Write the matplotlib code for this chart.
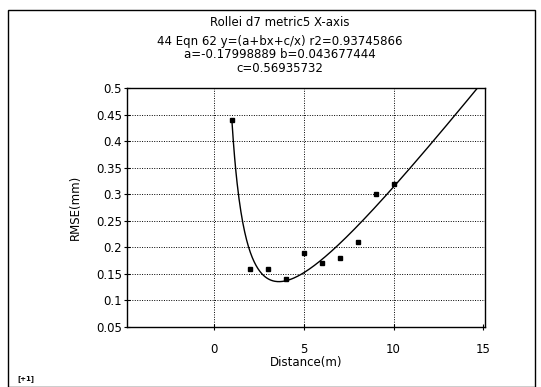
import numpy as np
import matplotlib
matplotlib.use("Agg")
import matplotlib.pyplot as plt
from matplotlib.patches import Rectangle

# Data
dist = [1, 2, 3, 4, 5, 6, 7, 8, 9, 10]
rmse = [0.44, 0.16, 0.16, 0.14, 0.19, 0.17, 0.18, 0.21, 0.30, 0.32]
a, b, c = -0.17998889, 0.043677444, 0.56935732
xticks = [0, 5, 10, 15]
yticks = [0.05, 0.1, 0.15, 0.2, 0.25, 0.3, 0.35, 0.4, 0.45, 0.5]
ytick_labels = ["0.05", "0.1", "0.15", "0.2", "0.25", "0.3", "0.35", "0.4", "0.45", "0.5"]

fig = plt.figure(figsize=(5.41, 3.87), dpi=100)
fig.patch.set_facecolor("white")

# outer frame
fig.patches.append(Rectangle((8/541, 0.0), (535-8)/541, 1 - 10/387 - 0.0,
                             transform=fig.transFigure, fill=False,
                             edgecolor="black", linewidth=1.0))

ax = fig.add_axes([127/541, 1 - 327/387, (485-127)/541, (327-88)/387])

xf = np.linspace(1.0, 15, 400)
yf = a + b * xf + c / xf
mask = yf <= 0.5
ax.plot(xf[mask], yf[mask], color="black", linewidth=1.0)
ax.plot(dist, rmse, "s", color="black", markersize=3.5)

ax.set_xlim(-4.86, 15.1)
ax.set_ylim(0.05, 0.5)
ax.set_xticks(xticks)
ax.set_yticks(yticks)
ax.set_yticklabels(ytick_labels)
ax.tick_params(direction="inout", length=5, width=0.8, labelsize=8.5, pad=1)
ax.tick_params(axis="x", pad=9)

for gx in [0, 5, 10]:
    ax.axvline(gx, color="black", linestyle=(0, (1, 1.5)), linewidth=0.7, zorder=0)
for gy in yticks[1:-1]:
    ax.axhline(gy, color="black", linestyle=(0, (1, 1.5)), linewidth=0.7, zorder=0)

for s in ax.spines.values():
    s.set_linewidth(1.0)

ax.set_xlabel("Distance(m)", fontsize=8.5, labelpad=0)
ax.set_ylabel("RMSE(mm)", fontsize=8.5, labelpad=10)

cx = 280 / 541
fig.text(cx, 1 - 22/387, "Rollei d7 metric5 X-axis", ha="center", va="center", fontsize=8.5)
fig.text(cx, 1 - 42/387, "44 Eqn 62 y=(a+bx+c/x) r2=0.93745866", ha="center", va="center", fontsize=8.5)
fig.text(cx, 1 - 55/387, "a=-0.17998889 b=0.043677444", ha="center", va="center", fontsize=8.5)
fig.text(cx, 1 - 69/387, "c=0.56935732", ha="center", va="center", fontsize=8.5)
fig.text(17/541, 1 - 379/387, "[+1]", ha="left", va="center", fontsize=5, fontweight="bold")

fig.savefig("out.png", dpi=100)
